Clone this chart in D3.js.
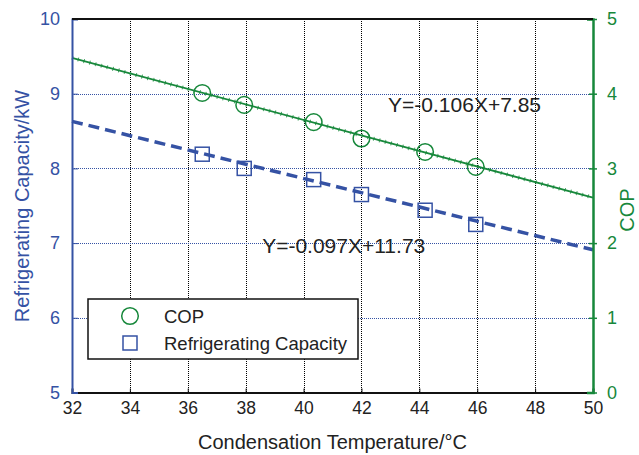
<!DOCTYPE html>
<head>
  <meta charset="utf-8">
  <script src="https://d3js.org/d3.v7.min.js"></script>
  <style>
    body { margin:0; background:#fff; }
    svg { display:block; font-family:"Liberation Sans", Arial, sans-serif; }
  </style>
</head>
<body>
  <svg width="639" height="455"></svg>
  <script>
    // values
    var markerTemps = [36.5, 37.95, 40.35, 42.0, 44.2, 45.95];
    var copValues = [4.01, 3.85, 3.62, 3.40, 3.22, 3.02];
    var capValues = [8.19, 8.00, 7.85, 7.65, 7.44, 7.25];
    // fitted lines, end points
    var fitTemps = [32, 50];
    var copFit = [4.48, 2.61];
    var capFit = [8.63, 6.91];
    var xTicks = [32, 34, 36, 38, 40, 42, 44, 46, 48, 50];
    var capTicks = [5, 6, 7, 8, 9, 10];
    var copTicks = [0, 1, 2, 3, 4, 5];
    var copEquation = 'Y=-0.106X+7.85';
    var capEquation = 'Y=-0.097X+11.73';

    var width = 639, height = 455;
    var margin = {top: 19, right: 46, bottom: 62.5, left: 72};
    var blue = '#3552a4', green = '#17883b', ink = '#222';

    var svg = d3.select('svg');

    var xScale = d3.scaleLinear().domain([32, 50]).range([margin.left, width - margin.right]);
    var yCap = d3.scaleLinear().domain([5, 10]).range([height - margin.bottom, margin.top]);
    var yCop = d3.scaleLinear().domain([0, 5]).range([height - margin.bottom, margin.top]);

    // grid (snapped to the pixel so the dots stay dark)
    svg.append('g').selectAll('line')
      .data(xTicks.slice(1, -1))
      .enter().append('line')
      .attr('x1', d => Math.round(xScale(d)) + 0.5).attr('x2', d => Math.round(xScale(d)) + 0.5)
      .attr('y1', margin.top).attr('y2', height - margin.bottom)
      .attr('stroke', '#000').attr('stroke-width', 1).attr('stroke-dasharray', '1,1');

    svg.append('g').selectAll('line')
      .data(capTicks.slice(1, -1))
      .enter().append('line')
      .attr('x1', margin.left).attr('x2', width - margin.right)
      .attr('y1', d => Math.round(yCap(d)) + 0.5).attr('y2', d => Math.round(yCap(d)) + 0.5)
      .attr('stroke', blue).attr('stroke-width', 1).attr('stroke-dasharray', '1,1');

    // fitted lines
    var copLine = d3.line().x((d, i) => xScale(fitTemps[i])).y(d => yCop(d));
    var capLine = d3.line().x((d, i) => xScale(fitTemps[i])).y(d => yCap(d));

    svg.append('path').attr('d', copLine(copFit))
      .attr('fill', 'none').attr('stroke', green).attr('stroke-width', 1.8);
    // the little notches along the COP line
    svg.append('path').attr('d', copLine(copFit))
      .attr('fill', 'none').attr('stroke', green).attr('stroke-width', 4)
      .attr('stroke-dasharray', '1,5').attr('opacity', 0.8);

    svg.append('path').attr('d', capLine(capFit))
      .attr('fill', 'none').attr('stroke', blue).attr('stroke-width', 3.5)
      .attr('stroke-dasharray', '11,6');

    // markers
    svg.append('g').selectAll('circle')
      .data(copValues)
      .enter().append('circle')
      .attr('cx', (d, i) => xScale(markerTemps[i]))
      .attr('cy', d => yCop(d))
      .attr('r', 8.3)
      .attr('fill', 'none').attr('stroke', green).attr('stroke-width', 1.5);

    svg.append('g').selectAll('rect')
      .data(capValues)
      .enter().append('rect')
      .attr('x', (d, i) => xScale(markerTemps[i]) - 7)
      .attr('y', d => yCap(d) - 7)
      .attr('width', 14).attr('height', 14)
      .attr('fill', 'none').attr('stroke', blue).attr('stroke-width', 1.5);

    // equations
    svg.append('text').text(copEquation)
      .attr('x', xScale(42.92)).attr('y', yCop(3.755))
      .attr('font-size', 21).attr('fill', ink);
    svg.append('text').text(capEquation)
      .attr('x', xScale(38.57)).attr('y', yCap(6.867))
      .attr('font-size', 21).attr('fill', ink);

    // axes
    var xAxis = d3.axisBottom(xScale).tickValues(xTicks).tickFormat(d3.format('d'))
      .tickSize(-4).tickPadding(9);
    var gx = svg.append('g')
      .attr('transform', 'translate(' + [0, height - margin.bottom] + ')')
      .call(xAxis);
    gx.select('.domain').attr('stroke', '#111').attr('stroke-width', 2);
    gx.selectAll('.tick line').attr('stroke', '#111');
    gx.selectAll('text').attr('font-size', 17.5).attr('fill', ink).attr('font-family', null);

    var yAxisLeft = d3.axisLeft(yCap).tickValues(capTicks).tickFormat(d3.format('d'))
      .tickSize(-6).tickPadding(12);
    var gl = svg.append('g')
      .attr('transform', 'translate(' + [margin.left, 0] + ')')
      .call(yAxisLeft);
    gl.select('.domain').attr('stroke', blue).attr('stroke-width', 2);
    gl.selectAll('.tick line').attr('stroke', blue);
    gl.selectAll('text').attr('font-size', 18).attr('fill', blue).attr('font-family', null);

    var yAxisRight = d3.axisRight(yCop).tickValues(copTicks).tickFormat(d3.format('d'))
      .tickSize(-6).tickPadding(14);
    var gr = svg.append('g')
      .attr('transform', 'translate(' + [width - margin.right, 0] + ')')
      .call(yAxisRight);
    gr.select('.domain').attr('stroke', green).attr('stroke-width', 2.5);
    gr.selectAll('.tick line').attr('stroke', green).attr('x2', 4).attr('x1', -4).attr('stroke-width', 1.5);
    gr.selectAll('text').attr('font-size', 18).attr('fill', green).attr('font-family', null);

    // top border
    svg.append('line')
      .attr('x1', margin.left).attr('x2', width - margin.right)
      .attr('y1', margin.top).attr('y2', margin.top)
      .attr('stroke', '#111').attr('stroke-width', 2);

    // axis titles
    svg.append('text').text('Condensation Temperature/°C')
      .attr('x', (margin.left + width - margin.right) / 2).attr('y', 449)
      .attr('text-anchor', 'middle').attr('font-size', 20).attr('fill', ink);

    svg.append('text').text('Refrigerating Capacity/kW')
      .attr('transform', 'translate(29,206) rotate(-90)')
      .attr('text-anchor', 'middle').attr('font-size', 20).attr('fill', blue);

    svg.append('text').text('COP')
      .attr('transform', 'translate(634,210) rotate(-90)')
      .attr('text-anchor', 'middle').attr('font-size', 20).attr('fill', green);

    // legend
    var legend = svg.append('g').attr('transform', 'translate(88,299)');
    legend.append('rect')
      .attr('width', 270).attr('height', 60)
      .attr('fill', '#fff').attr('stroke', '#111').attr('stroke-width', 1.5);
    legend.append('circle')
      .attr('cx', 42).attr('cy', 17).attr('r', 8.3)
      .attr('fill', 'none').attr('stroke', green).attr('stroke-width', 1.5);
    legend.append('rect')
      .attr('x', 35).attr('y', 37).attr('width', 14).attr('height', 14)
      .attr('fill', 'none').attr('stroke', blue).attr('stroke-width', 1.5);
    legend.append('text').text('COP')
      .attr('x', 76).attr('y', 24).attr('font-size', 18.5).attr('fill', ink);
    legend.append('text').text('Refrigerating Capacity')
      .attr('x', 76).attr('y', 51).attr('font-size', 18.5).attr('fill', ink);
  </script>
</body>
